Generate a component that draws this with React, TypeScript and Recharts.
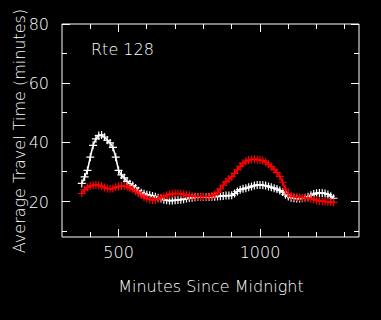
import React from "react";
import { LineChart, Line, XAxis, YAxis } from "recharts";

const MINUTES = [
  370, 380, 390, 400, 410, 420, 430, 440, 450, 460,
  470, 480, 490, 500, 510, 520, 530, 540, 550, 560,
  570, 580, 590, 600, 610, 620, 630, 640, 650, 660,
  670, 680, 690, 700, 710, 720, 730, 740, 750, 760,
  770, 780, 790, 800, 810, 820, 830, 840, 850, 860,
  870, 880, 890, 900, 910, 920, 930, 940, 950, 960,
  970, 980, 990, 1000, 1010, 1020, 1030, 1040, 1050, 1060,
  1070, 1080, 1090, 1100, 1110, 1120, 1130, 1140, 1150, 1160,
  1170, 1180, 1190, 1200, 1210, 1220, 1230, 1240, 1250, 1260,
];

const SERIES_WHITE = [
  26.1, 28.3, 30.5, 35.0, 39.0, 41.2, 42.3, 42.5, 41.8, 40.7,
  39.8, 38.3, 35.0, 30.5, 29.0, 28.0, 26.8, 26.0, 25.4, 24.6,
  23.6, 23.0, 22.6, 22.3, 22.1, 21.9, 21.6, 21.3, 21.0, 20.6,
  20.4, 20.3, 20.3, 20.4, 20.5, 20.6, 20.8, 21.0, 21.2, 21.3,
  21.4, 21.5, 21.5, 21.5, 21.5, 21.5, 21.6, 21.6, 21.7, 21.8,
  21.9, 22.0, 22.0, 22.1, 22.7, 23.4, 24.0, 24.3, 24.5, 24.8,
  25.1, 25.4, 25.6, 25.6, 25.5, 25.4, 25.1, 24.8, 24.5, 24.2,
  23.7, 23.2, 22.3, 21.7, 21.3, 21.1, 21.0, 21.0, 21.1, 21.3,
  21.6, 22.1, 22.5, 22.8, 22.9, 22.9, 22.7, 22.4, 21.8, 21.1,
];

const SERIES_RED = [
  22.7, 24.0, 24.8, 25.3, 25.5, 25.6, 25.5, 25.2, 24.7, 24.4,
  24.3, 24.4, 24.8, 25.1, 25.2, 25.2, 25.0, 24.6, 24.1, 23.5,
  22.9, 22.2, 21.5, 21.0, 20.7, 20.5, 20.6, 20.9, 21.3, 21.7,
  22.1, 22.4, 22.6, 22.7, 22.7, 22.6, 22.4, 22.2, 22.0, 21.8,
  21.7, 21.6, 21.6, 21.6, 21.6, 21.7, 21.9, 22.4, 23.1, 24.3,
  25.5, 26.7, 27.6, 28.4, 29.5, 30.7, 31.9, 32.9, 33.6, 34.0,
  34.2, 34.3, 34.2, 34.0, 33.8, 33.3, 32.6, 31.8, 30.8, 29.8,
  28.5, 26.5, 24.2, 22.6, 21.8, 21.6, 21.5, 21.4, 21.3, 21.2,
  21.1, 21.0, 20.7, 20.4, 20.2, 20.1, 20.0, 19.9, 19.8, 19.7,
];

const X_TICKS = [400, 500, 600, 700, 800, 900, 1000, 1100, 1200, 1300];
const X_LABELS = [500, 1000];
const Y_TICKS = [10, 20, 30, 40, 50, 60, 70, 80];
const Y_LABELS = [20, 40, 60, 80];

const TITLE = "Rte 128";
const X_TITLE = "Minutes Since Midnight";
const Y_TITLE = "Average Travel Time (minutes)";

const data = MINUTES.map((m, i) => ({ m, w: SERIES_WHITE[i], r: SERIES_RED[i] }));

const FONT = "'DejaVu Sans', sans-serif";
const FW = 200;
const FG = "#ffffff";
const RED = "#ff0000";
const MAJOR = 8;
const MINOR = 5;

const BottomTick = (p: any) => {
  const v = p.payload.value;
  const major = X_LABELS.includes(v);
  const len = major ? MAJOR : MINOR;
  return (
    <g>
      <line x1={p.x} x2={p.x} y1={p.y} y2={p.y - len} stroke={FG} strokeWidth={1} shapeRendering="crispEdges" />
      {major && (
        <text x={p.x} y={p.y + 21} fill={FG} fontSize={16} fontWeight={FW} fontFamily={FONT} textAnchor="middle">
          {v}
        </text>
      )}
    </g>
  );
};

const TopTick = (p: any) => {
  const v = p.payload.value;
  const len = X_LABELS.includes(v) ? MAJOR : MINOR;
  return <line x1={p.x} x2={p.x} y1={p.y} y2={p.y + len} stroke={FG} strokeWidth={1} shapeRendering="crispEdges" />;
};

const LeftTick = (p: any) => {
  const v = p.payload.value;
  const major = Y_LABELS.includes(v);
  const len = major ? MAJOR : MINOR;
  return (
    <g>
      <line x1={p.x} x2={p.x + len} y1={p.y} y2={p.y} stroke={FG} strokeWidth={1} shapeRendering="crispEdges" />
      {major && (
        <text x={p.x - 13} y={p.y + 6} fill={FG} fontSize={16} fontWeight={FW} fontFamily={FONT} textAnchor="end">
          {v}
        </text>
      )}
    </g>
  );
};

const RightTick = (p: any) => {
  const v = p.payload.value;
  const len = Y_LABELS.includes(v) ? MAJOR : MINOR;
  return <line x1={p.x} x2={p.x - len} y1={p.y} y2={p.y} stroke={FG} strokeWidth={1} shapeRendering="crispEdges" />;
};

const plusDot = (color: string) => (p: any) => {
  const { cx, cy, index } = p;
  if (cx == null || cy == null) return <g key={`d${index}`} />;
  const h = 4;
  return (
    <path
      key={`d${index}`}
      d={`M${cx - h},${cy}H${cx + h}M${cx},${cy - h}V${cy + h}`}
      stroke={color}
      strokeWidth={1.2}
      fill="none"
    />
  );
};

export default function App() {
  return (
    <div style={{ position: "absolute", left: 0, top: 0, width: 381, height: 320, background: "#000" }}>
      <LineChart width={381} height={320} data={data} margin={{ top: 0, right: 0, bottom: 0, left: 0 }}>
        <XAxis
          xAxisId={0}
          dataKey="m"
          type="number"
          domain={[300, 1350]}
          ticks={X_TICKS}
          interval={0}
          orientation="bottom"
          height={83}
          tickSize={0}
          tickMargin={0}
          tickLine={false}
          tick={BottomTick}
          axisLine={{ stroke: FG, strokeWidth: 1 }}
          allowDataOverflow
        />
        <XAxis
          xAxisId="top"
          dataKey="m"
          type="number"
          domain={[300, 1350]}
          ticks={X_TICKS}
          interval={0}
          orientation="top"
          height={24}
          tickSize={0}
          tickMargin={0}
          tickLine={false}
          tick={TopTick}
          axisLine={{ stroke: FG, strokeWidth: 1 }}
          allowDataOverflow
        />
        <YAxis
          yAxisId={0}
          type="number"
          domain={[8, 80]}
          ticks={Y_TICKS}
          interval={0}
          orientation="left"
          width={62}
          tickSize={0}
          tickMargin={0}
          tickLine={false}
          tick={LeftTick}
          axisLine={{ stroke: FG, strokeWidth: 1 }}
          allowDataOverflow
        />
        <YAxis
          yAxisId="right"
          type="number"
          domain={[8, 80]}
          ticks={Y_TICKS}
          interval={0}
          orientation="right"
          width={22}
          tickSize={0}
          tickMargin={0}
          tickLine={false}
          tick={RightTick}
          axisLine={{ stroke: FG, strokeWidth: 1 }}
          allowDataOverflow
        />
        <Line
          dataKey="w"
          stroke={FG}
          strokeWidth={1.6}
          type="linear"
          dot={plusDot(FG)}
          activeDot={false}
          isAnimationActive={false}
        />
        <Line
          dataKey="r"
          stroke={RED}
          strokeWidth={1.6}
          type="linear"
          dot={plusDot(RED)}
          activeDot={false}
          isAnimationActive={false}
        />
        <text x={91} y={55} fill={FG} fontSize={16} fontWeight={FW} fontFamily={FONT}>
          {TITLE}
        </text>
        <text x={211} y={292} fill={FG} fontSize={16} fontWeight={FW} fontFamily={FONT} textAnchor="middle">
          {X_TITLE}
        </text>
        <text transform="translate(25,131) rotate(-90)" x={0} y={0} fill={FG} fontSize={16} fontWeight={FW} fontFamily={FONT} textAnchor="middle">
          {Y_TITLE}
        </text>
      </LineChart>
    </div>
  );
}
